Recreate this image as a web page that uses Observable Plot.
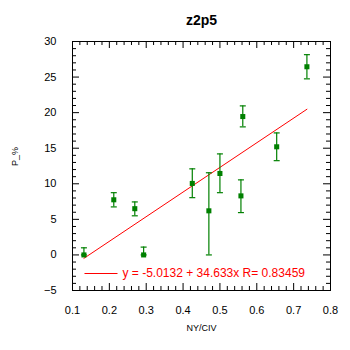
<!DOCTYPE html>
<html>
<head>
<meta charset="utf-8">
<script src="https://cdn.jsdelivr.net/npm/d3@7"></script>
<script src="https://cdn.jsdelivr.net/npm/@observablehq/plot@0.6"></script>
<style>
  html, body { margin: 0; padding: 0; background: #fff; }
  #chart svg { display: block; }
</style>
</head>
<body>
<div id="chart"></div>
<script>
// ---- Data ----
const xValues = [0.131, 0.212, 0.269, 0.293, 0.425, 0.470, 0.500, 0.557, 0.562, 0.654, 0.736];
const yValues = [0.0, 7.75, 6.5, 0.0, 10.05, 6.2, 11.45, 8.3, 19.45, 15.2, 26.45];
const yLow    = [0.0, 6.75, 5.5, 0.0, 8.05, 0.0, 8.75, 5.95, 18.0, 13.25, 24.75];
const yHigh   = [1.0, 8.75, 7.45, 1.1, 12.1, 11.55, 14.2, 10.55, 20.95, 17.15, 28.15];
const fitIntercept = -5.0132;
const fitSlope = 34.633;
const fitR = 0.83459;
const xTicks = [0.1, 0.2, 0.3, 0.4, 0.5, 0.6, 0.7, 0.8];
const yTicks = [-5, 0, 5, 10, 15, 20, 25, 30];
const xMinorTicks = d3.range(0, 36).map(i => +(0.1 + i * 0.02).toFixed(2)).filter(v => !xTicks.some(t => Math.abs(t - v) < 1e-9));
const yMinorTicks = d3.range(-5, 31).filter(v => !yTicks.includes(v));
const title = "z2p5";
const xLabel = "NY/CIV";
const yLabel = "P_%";
const legendText = `y = ${fitIntercept} + ${fitSlope}x R= ${fitR}`;

// ---- Derived tables ----
const points = xValues.map((x, i) => ({x, y: yValues[i], lo: yLow[i], hi: yHigh[i]}));
const caps = points.flatMap(d => [{x: d.x, y: d.lo}, {x: d.x, y: d.hi}]);
const fitLine = [d3.min(xValues), d3.max(xValues)].map(x => ({x, y: fitIntercept + fitSlope * x}));

// ---- Layout ----
const W = 350, H = 350;
const mL = 72, mR = 20, mT = 41, mB = 60;
const innerW = W - mL - mR, innerH = H - mT - mB;
const majorLen = 7, minorLen = 4;
const green = "#008000";
const red = "#ff0000";
const tickFont = "'Liberation Sans Narrow', 'Liberation Sans', Arial, sans-serif";
const font = "'Liberation Sans', Arial, sans-serif";

const capSymbol = {draw(ctx) { ctx.moveTo(-3, 0); ctx.lineTo(3, 0); }};
const legendSymbol = {draw(ctx) { ctx.moveTo(-16.5, 0); ctx.lineTo(16.5, 0); }};

const chart = Plot.plot({
  width: W, height: H,
  marginLeft: mL, marginRight: mR, marginTop: mT, marginBottom: mB,
  style: {fontFamily: font, background: "#fff", color: "#000"},
  x: {domain: [0.1, 0.8]},
  y: {domain: [-5, 30]},
  marks: [
    // inner ticks, all four sides
    Plot.ruleX(xTicks, {stroke: "black", insetTop: innerH - majorLen}),
    Plot.ruleX(xTicks, {stroke: "black", insetBottom: innerH - majorLen}),
    Plot.ruleX(xMinorTicks, {stroke: "black", insetTop: innerH - minorLen}),
    Plot.ruleX(xMinorTicks, {stroke: "black", insetBottom: innerH - minorLen}),
    Plot.ruleY(yTicks, {stroke: "black", insetRight: innerW - majorLen}),
    Plot.ruleY(yTicks, {stroke: "black", insetLeft: innerW - majorLen}),
    Plot.ruleY(yMinorTicks, {stroke: "black", insetRight: innerW - minorLen}),
    Plot.ruleY(yMinorTicks, {stroke: "black", insetLeft: innerW - minorLen}),
    Plot.frame({stroke: "black"}),
    // tick labels
    Plot.axisX({ticks: xTicks, tickSize: 0, tickPadding: 16, tickFormat: d3.format(".1f"), label: null, fontSize: 11, fontFamily: tickFont}),
    Plot.axisY({ticks: yTicks, tickSize: 0, tickPadding: 16, label: null, fontSize: 11, fontFamily: tickFont}),
    // fit line
    Plot.line(fitLine, {x: "x", y: "y", stroke: red, strokeWidth: 1}),
    // error bars
    Plot.ruleX(points, {x: "x", y1: "lo", y2: "hi", stroke: green, strokeWidth: 1.2}),
    Plot.dot(caps, {x: "x", y: "y", symbol: capSymbol, fill: "none", stroke: green, strokeWidth: 1.2}),
    // markers
    Plot.dot(points, {x: "x", y: "y", symbol: "square", r: 2.85, fill: green, stroke: "none"}),
    // legend
    Plot.dot([legendText], {frameAnchor: "bottom-left", dx: 28.5, dy: -17, symbol: legendSymbol, fill: "none", stroke: red, strokeWidth: 1}),
    Plot.text([legendText], {frameAnchor: "bottom-left", dx: 50, dy: -17, text: d => d, textAnchor: "start", lineAnchor: "middle", fill: red, fontSize: 12}),
    // title and axis labels
    Plot.text([title], {frameAnchor: "top", dy: -21, text: d => d, lineAnchor: "middle", fontSize: 14, fontWeight: "bold", fill: "black"}),
    Plot.text([xLabel], {frameAnchor: "bottom", dy: 38, text: d => d, lineAnchor: "middle", fontSize: 9, fill: "black"}),
    Plot.text([yLabel], {frameAnchor: "left", dx: -57, text: d => d, rotate: -90, lineAnchor: "middle", fontSize: 9, fill: "black"})
  ]
});
document.getElementById("chart").appendChild(chart);
</script>
</body>
</html>
